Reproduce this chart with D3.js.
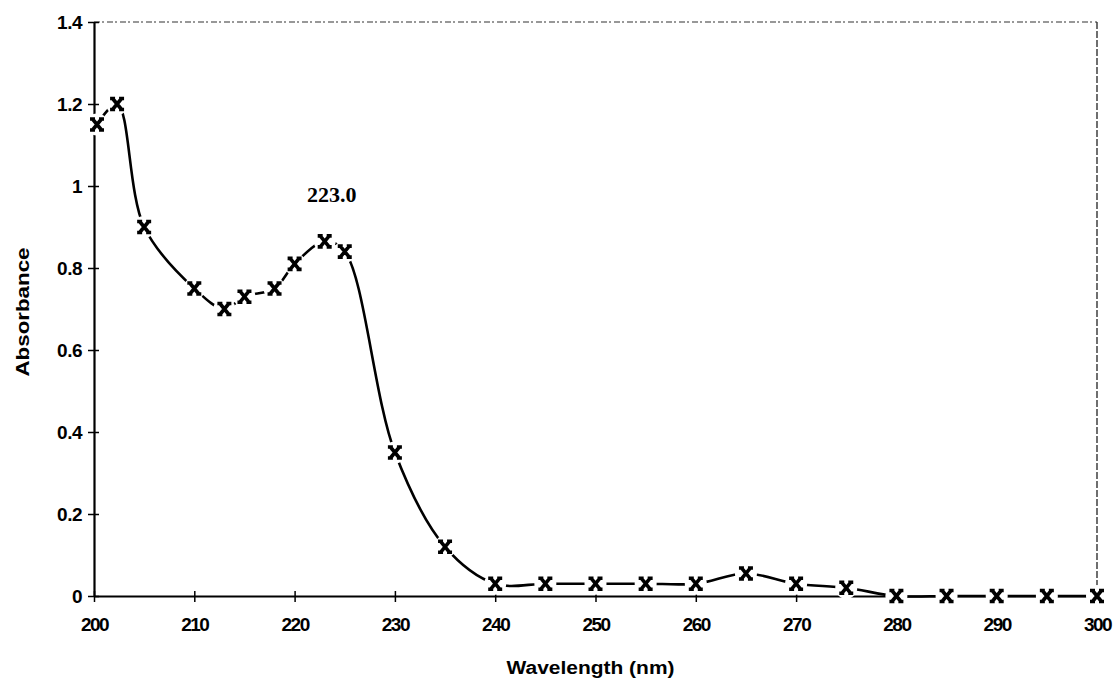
<!DOCTYPE html>
<meta charset="utf-8">
<head>
	<title>Absorbance spectrum</title>
	<script type="text/javascript" src="https://cdn.jsdelivr.net/npm/d3@7/dist/d3.min.js"></script>
	<style>
  body { margin: 0; background: #fff; }
  .tick text { font-family: Arial, "Liberation Sans", sans-serif; font-weight: bold; fill: #000; }
  .axis-title { font-family: Arial, "Liberation Sans", sans-serif; font-weight: bold; font-size: 18px; }
  .peak { font-family: "Times New Roman", "Liberation Serif", serif; font-weight: bold; font-size: 22px; }
	</style>
</head>
<body>
<div id="chart"></div>
<script>
// data
var wavelengths = [200.3, 202.3, 205, 210, 213, 215, 218, 220, 223, 225, 230, 235, 240, 245, 250, 255, 260, 265, 270, 275, 280, 285, 290, 295, 300];
var absorbance  = [1.15, 1.2, 0.9, 0.75, 0.7, 0.73, 0.75, 0.81, 0.865, 0.84, 0.35, 0.12, 0.03, 0.03, 0.03, 0.03, 0.03, 0.055, 0.03, 0.02, 0, 0, 0, 0, 0];
var xTicks = [200, 210, 220, 230, 240, 250, 260, 270, 280, 290, 300];
var yTicks = [0, 0.2, 0.4, 0.6, 0.8, 1, 1.2, 1.4];
var peakLabel = "223.0";

var margin = {top: 22, right: 21, bottom: 95, left: 94},
    width = 1118 - margin.left - margin.right,
    height = 691 - margin.top - margin.bottom;

var svg = d3.select("#chart").append("svg")
    .attr("width", 1118)
    .attr("height", 691)
    .append("g")
    .attr("transform", "translate(" + margin.left + "," + margin.top + ")");

var x = d3.scaleLinear().domain([200, 300]).range([0, width]);
var y = d3.scaleLinear().domain([0, 1.4]).range([height, 0]);

// dashed frame top/right
svg.append("line").attr("x1", 0).attr("x2", width).attr("y1", 0).attr("y2", 0)
    .attr("stroke", "#333").attr("stroke-width", 1.2).attr("stroke-dasharray", "6,2,2,3");
svg.append("line").attr("x1", width).attr("x2", width).attr("y1", 0).attr("y2", height)
    .attr("stroke", "#222").attr("stroke-width", 1.3).attr("stroke-dasharray", "7,2");

// axes
var xAxis = svg.append("g")
    .attr("transform", "translate(0," + height + ")")
    .call(d3.axisBottom(x).tickValues(xTicks).tickSizeInner(6).tickSizeOuter(0).tickFormat(d3.format("d")));
xAxis.selectAll(".tick line").attr("y1", -5).attr("y2", 6).attr("stroke-width", 1.5);
xAxis.selectAll(".tick text").attr("dy", "1.35em").style("font-size", "19px").style("letter-spacing", "-1.5px");
xAxis.select(".domain").attr("stroke-width", 2.2);

var yAxis = svg.append("g")
    .call(d3.axisLeft(y).tickValues(yTicks).tickSizeInner(6).tickSizeOuter(0)
        .tickFormat(function(d) { return d === 0 || d === 1 ? d3.format("d")(d) : d3.format(".1f")(d); }));
yAxis.selectAll(".tick line").attr("x1", -6).attr("x2", 5).attr("stroke-width", 1.5);
yAxis.selectAll(".tick text").attr("x", -12).style("font-size", "19px").style("letter-spacing", "-0.5px");
yAxis.select(".domain").attr("stroke-width", 2.2);

// curve
var pts = wavelengths.map(function(w, i) { return [w, absorbance[i]]; });
var line = d3.line()
    .x(function(d) { return x(d[0]); })
    .y(function(d) { return y(d[1]); })
    .curve(d3.curveCatmullRom.alpha(0.5));
svg.append("path")
    .datum(pts)
    .attr("fill", "none")
    .attr("stroke", "#000")
    .attr("stroke-width", 2.6)
    .attr("d", line);

// markers: bold X with serifs, white halo to break the line
var markerPath = "M-4.5,-5.5L4.5,5.5M-4.5,5.5L4.5,-5.5M-7,-5.5H-2M2,-5.5H7M-7,5.5H-2M2,5.5H7";
var marks = svg.append("g").selectAll("g")
    .data(pts).enter().append("g")
    .attr("transform", function(d) { return "translate(" + x(d[0]) + "," + y(d[1]) + ")"; });
marks.append("circle").attr("r", 11).attr("fill", "#fff");
marks.append("path").attr("d", markerPath)
    .attr("stroke", "#000").attr("stroke-width", 3.6).attr("fill", "none");

// peak label
svg.append("text")
    .attr("class", "peak")
    .attr("x", x(223.7))
    .attr("y", 180)
    .attr("text-anchor", "middle")
    .text(peakLabel);

// axis titles
svg.append("text")
    .attr("class", "axis-title")
    .attr("x", width / 2 - 5)
    .attr("y", height + 78)
    .attr("text-anchor", "middle")
    .attr("textLength", 168)
    .attr("lengthAdjust", "spacingAndGlyphs")
    .text("Wavelength (nm)");
svg.append("text")
    .attr("class", "axis-title")
    .attr("transform", "translate(" + (-65) + "," + 290 + ") rotate(-90)")
    .attr("text-anchor", "middle")
    .attr("textLength", 129)
    .attr("lengthAdjust", "spacingAndGlyphs")
    .text("Absorbance");
</script>
</body>
